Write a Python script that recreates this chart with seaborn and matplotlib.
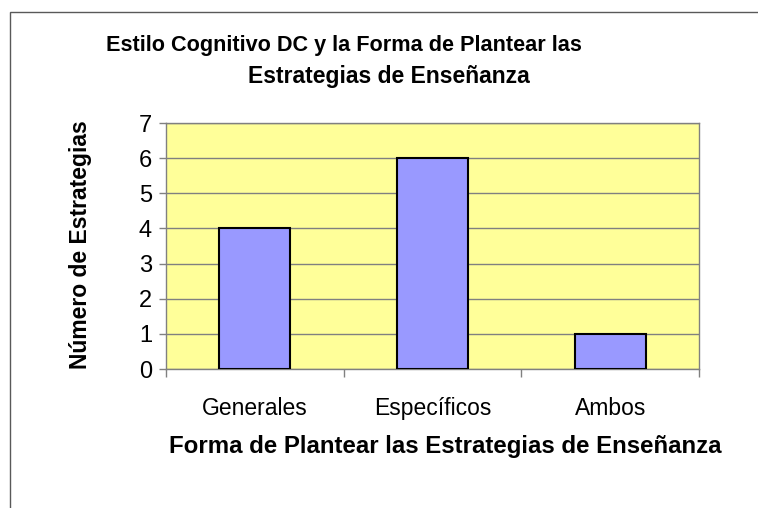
import matplotlib
matplotlib.use('Agg')
import matplotlib.pyplot as plt
import matplotlib.patches as patches
import seaborn as sns

# Datos del grafico
categorias = ['Generales', 'Específicos', 'Ambos']
estrategias = [4, 6, 1]
ticks_y = [0, 1, 2, 3, 4, 5, 6, 7]

sns.set_style('white')
plt.rcParams['font.family'] = ['Liberation Sans', 'DejaVu Sans']
plt.rcParams['text.color'] = 'black'

fig = plt.figure(figsize=(7.58, 5.08), dpi=100)
ax = fig.add_axes([166 / 758, 1 - 369 / 508, (699 - 166) / 758, (369 - 123) / 508])
ax.set_facecolor('#FFFF99')

sns.barplot(x=categorias, y=estrategias, color='#9999FF', saturation=1,
            width=0.4, edgecolor='black', linewidth=1.5, ax=ax, zorder=3)

ax.set_xlim(-0.5, 2.5)
ax.set_ylim(0, 7)
ax.set_yticks(ticks_y)
ax.set_yticklabels([str(t) for t in ticks_y], fontsize=17)
ax.yaxis.grid(True, color='#808080', linewidth=1, zorder=1)
ax.set_axisbelow(True)
ax.tick_params(axis='y', length=5, color='#808080', width=1, pad=5, left=True,
               labelcolor='black')

# ticks entre categorias
ax.set_xticks([-0.5, 0.5, 1.5, 2.5], minor=True)
ax.tick_params(axis='x', which='minor', length=6, color='#808080', width=1, bottom=True)
ax.tick_params(axis='x', which='major', length=0, pad=20, labelsize=16.5, labelcolor='black')

for s in ax.spines.values():
    s.set_color('#808080')
    s.set_linewidth(1)

ax.set_xlabel('')
ax.set_ylabel('')

fig.text(344 / 758, 1 - 45 / 508, 'Estilo Cognitivo DC y la Forma de Plantear las',
         ha='center', va='center', fontsize=15.6, fontweight='bold')
fig.text(389 / 758, 1 - 77 / 508, 'Estrategias de Enseñanza',
         ha='center', va='center', fontsize=16.5, fontweight='bold')
fig.text(445 / 758, 1 - 447 / 508, 'Forma de Plantear las Estrategias de Enseñanza',
         ha='center', va='center', fontsize=17.3, fontweight='bold')
fig.text(80 / 758, 1 - 245 / 508, 'Número de Estrategias', rotation=90,
         ha='center', va='center', fontsize=16.5, fontweight='bold')

# marco del area del grafico
marco = patches.Rectangle((10 / 758, -0.1), 1.2, (1 - 12 / 508) + 0.1,
                          transform=fig.transFigure, fill=False,
                          edgecolor='#595959', linewidth=1)
fig.patches.append(marco)

fig.savefig('out.png', dpi=100)
